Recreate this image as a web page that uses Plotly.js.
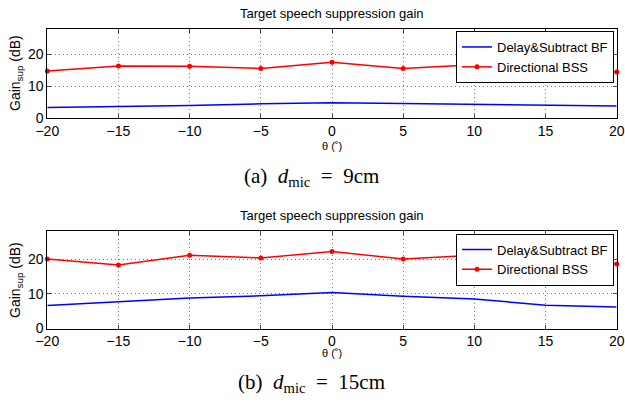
<!DOCTYPE html>
<html><head><meta charset="utf-8">
<script src="https://cdn.plot.ly/plotly-3.0.1.min.js"></script>
<style>body{margin:0;padding:0;background:#fff}#chart{width:625px;height:403px}</style>
</head><body><div id="chart"></div>
<script>
const theta = [-20, -15, -10, -5, 0, 5, 10, 15, 20];
const dsbfA = [3.2, 3.5, 3.9, 4.4, 4.7, 4.5, 4.3, 4.1, 3.7];
const bssA  = [14.8, 16.4, 16.3, 15.6, 17.6, 15.6, 16.8, 16.0, 14.5];
const dsbfB = [6.6, 7.6, 8.8, 9.4, 10.4, 9.3, 8.5, 6.7, 6.2];
const bssB  = [20.0, 18.3, 21.1, 20.3, 22.2, 20.0, 21.1, 20.2, 18.6];
const seriesNames = ['Delay&amp;Subtract BF', 'Directional BSS'];
const plotTitle = 'Target speech suppression gain';
const captions = ['(a)&nbsp;&nbsp;<i>d</i><sub>mic</sub>&nbsp;&nbsp;=&nbsp;&nbsp;9cm', '(b)&nbsp;&nbsp;<i>d</i><sub>mic</sub>&nbsp;&nbsp;=&nbsp;&nbsp;15cm'];

const F = 'Liberation Sans, Arial, sans-serif';
const SERIF = 'Liberation Serif, Times New Roman, serif';
function blue(x, y, xa, ya, lg) {
  return {x: x, y: y, xaxis: xa, yaxis: ya, legend: lg, name: seriesNames[0], mode: 'lines',
    line: {color: '#0000ff', width: 1.5}};
}
function red(x, y, xa, ya, lg) {
  return {x: x, y: y, xaxis: xa, yaxis: ya, legend: lg, name: seriesNames[1], mode: 'lines+markers',
    line: {color: '#ff0000', width: 1.5}, marker: {color: '#ff0000', size: 5}, cliponaxis: false};
}
const data = [
  blue(theta, dsbfA, 'x', 'y', 'legend'),
  red(theta, bssA, 'x', 'y', 'legend'),
  blue(theta, dsbfB, 'x2', 'y2', 'legend2'),
  red(theta, bssB, 'x2', 'y2', 'legend2')
];
const xd = [47.3/625, 616.7/625];
const common = {ticks: 'inside', ticklen: 4, showline: true, linecolor: '#000', linewidth: 1, mirror: 'ticks',
  showgrid: true, gridcolor: '#777', griddash: '1px,3px', gridwidth: 1, zeroline: false,
  tickfont: {family: F, size: 14, color: '#000'}};
function xax(anchor, dom) {
  return Object.assign({domain: dom, anchor: anchor, range: [-20, 20], tickvals: theta}, common);
}
function yax(anchor, dom) {
  return Object.assign({domain: dom, anchor: anchor, range: [0, 28], tickvals: [0, 10, 20]}, common);
}
const legendBase = {xref: 'paper', yref: 'paper', xanchor: 'right', yanchor: 'top', bgcolor: '#fff',
  bordercolor: '#000', borderwidth: 1, font: {family: F, size: 13, color: '#000'}, tracegroupgap: 0,
  itemwidth: 30};
const annTxt = (text, x, y, size, opts) => Object.assign({text: text, x: x, y: y, xref: 'paper', yref: 'paper',
  xanchor: 'center', yanchor: 'middle', showarrow: false, font: {family: F, size: size, color: '#000'}}, opts || {});
const layout = {
  width: 625, height: 403, margin: {l: 0, r: 0, t: 0, b: 0}, paper_bgcolor: '#fff', plot_bgcolor: '#fff',
  showlegend: true,
  xaxis: xax('y', xd), yaxis: yax('x', [1 - 117.7/403, 1 - 29.3/403]),
  xaxis2: xax('y2', xd), yaxis2: yax('x2', [1 - 328.5/403, 1 - 231.3/403]),
  legend: Object.assign({}, legendBase, {x: 614/625, y: 1 - 31/403}),
  legend2: Object.assign({}, legendBase, {x: 614/625, y: 1 - 233.5/403}),
  annotations: [
    annTxt(plotTitle, 332/625, 1 - 14/403, 13),
    annTxt(plotTitle, 332/625, 1 - 216/403, 13),
    annTxt('θ (˚)', 332/625, 1 - 146/403, 11),
    annTxt('θ (˚)', 332/625, 1 - 353/403, 11),
    annTxt('Gain<sub>sup</sub> (dB)', 16/625, 1 - 73/403, 14, {textangle: -90}),
    annTxt('Gain<sub>sup</sub> (dB)', 16/625, 1 - 280/403, 14, {textangle: -90}),
    annTxt(captions[0], 311/625, 1 - 177/403, 21, {font: {family: SERIF, size: 21, color: '#000'}}),
    annTxt(captions[1], 311/625, 1 - 383/403, 21, {font: {family: SERIF, size: 21, color: '#000'}})
  ]
};
Plotly.newPlot('chart', data, layout, {displayModeBar: false, staticPlot: true});
</script></body></html>
